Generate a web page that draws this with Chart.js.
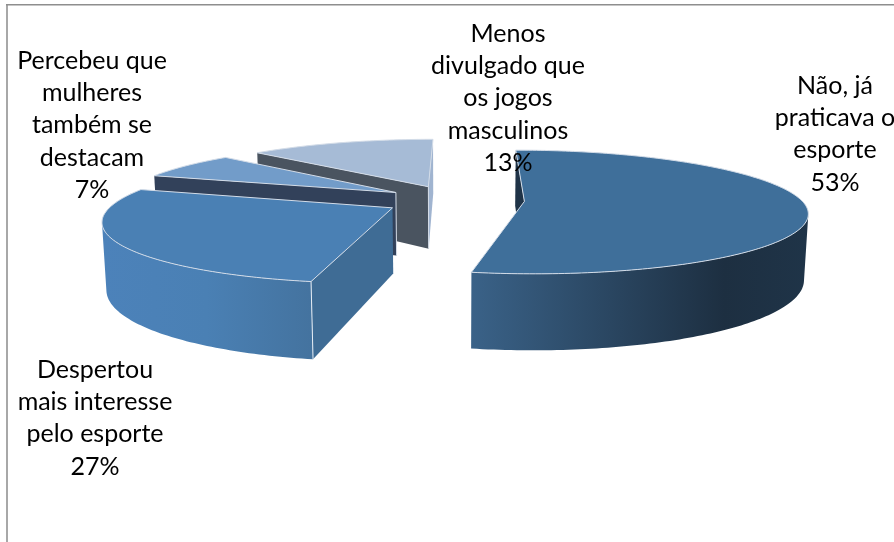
<!DOCTYPE html>
<html>
<head>
<meta charset="utf-8">
<title>Pie</title>
<script src="https://cdn.jsdelivr.net/npm/chart.js@4/dist/chart.umd.min.js"></script>
<style>
  html, body { margin: 0; padding: 0; background: #fff; }
  canvas { display: block; }
</style>
</head>
<body>
<canvas id="pie" width="894" height="542"></canvas>
<script>
const pieEl = document.getElementById('pie');

const labels = [
  ['Não, já', 'praticava o', 'esporte'],
  ['Despertou', 'mais interesse', 'pelo esporte'],
  ['Percebeu que', 'mulheres', 'também se', 'destacam'],
  ['Menos', 'divulgado que', 'os jogos', 'masculinos']
];
const values = [53, 27, 7, 13];

// slice styles
const topColors = ['#3f6f9a', '#4a80b4', '#729cc9', '#a6bbd6'];
const startWallColors = ['#1f3347', '#3f6c95', '#32415a', '#4a5460'];
const endWallColors = ['#1f3347', '#3f6c95', '#32415a', '#a0b4d0'];
const rimStops = [
  [[0, '#3a6288'], [0.75, '#1d2f41'], [1, '#1f3448']],
  [[0, '#4c82ba'], [0.5, '#4a80b4'], [1, '#44739f']],
  [[0, '#32415a'], [1, '#32415a']],
  [[0, '#4a5460'], [1, '#4a5460']]
];
const labelCenters = [[835, 86], [95, 370], [92, 61], [508, 34]];

// view of the tilted disc
const tilt = 0.215;
const persp = 0.17;
const sink = 0.012;
const depth = 65;
const lean = 1.5;
const lineGap = 32.2;

const project = (arc, shift, r, angle, z) => {
  const px = shift.x + r * Math.cos(angle);
  const py = shift.y + r * Math.sin(angle);
  const d = py / arc.outerRadius;
  const w = 1 - persp * d + sink * z;
  const drift = d > -1 ? lean * (d + 1) * (d + 1) : 0;
  return { x: arc.x + px / w - drift, y: arc.y + (tilt * py + depth * z) / w };
};

const polyArea = (pts) => pts.reduce((sum, p, i) => {
  const q = pts[(i + 1) % pts.length];
  return sum + p.x * q.y - q.x * p.y;
}, 0);

const fillPoly = (ctx, pts, fill) => {
  ctx.beginPath();
  pts.forEach((p, i) => (i ? ctx.lineTo(p.x, p.y) : ctx.moveTo(p.x, p.y)));
  ctx.closePath();
  ctx.fillStyle = fill;
  ctx.fill();
};

const edge = (ctx, a, b, color) => {
  ctx.beginPath();
  ctx.moveTo(a.x, a.y);
  ctx.lineTo(b.x, b.y);
  ctx.strokeStyle = color;
  ctx.lineWidth = 1;
  ctx.stroke();
};

const cutWall = (arc, shift, angle) => [
  project(arc, shift, 0, angle, 0),
  project(arc, shift, arc.outerRadius, angle, 0),
  project(arc, shift, arc.outerRadius, angle, 1),
  project(arc, shift, 0, angle, 1)
];

const drawSlice = (ctx, arc, i) => {
  const R = arc.outerRadius;
  const mid = (arc.startAngle + arc.endAngle) / 2;
  const off = arc.options.offset / 4;
  const shift = { x: Math.cos(mid) * off, y: Math.sin(mid) * off };
  const steps = Math.ceil((arc.endAngle - arc.startAngle) * 180 / Math.PI);
  const angles = [];
  for (let s = 0; s <= steps; s++) {
    angles.push(arc.startAngle + (arc.endAngle - arc.startAngle) * s / steps);
  }

  // the two cut faces, only when they turn towards the viewer
  const startWall = cutWall(arc, shift, arc.startAngle);
  const endWall = cutWall(arc, shift, arc.endAngle);
  if (polyArea(startWall) < 0) fillPoly(ctx, startWall, startWallColors[i]);
  if (polyArea(endWall) > 0) fillPoly(ctx, endWall, endWallColors[i]);

  // curved outer face
  const seen = [];
  for (let s = 0; s < steps; s++) {
    const quad = [
      project(arc, shift, R, angles[s], 0),
      project(arc, shift, R, angles[s + 1], 0),
      project(arc, shift, R, angles[s + 1], 1),
      project(arc, shift, R, angles[s], 1)
    ];
    if (polyArea(quad) < 0) seen.push(s, s + 1);
  }
  if (seen.length) {
    const from = Math.min(...seen);
    const to = Math.max(...seen);
    const rimTop = [];
    const rimBottom = [];
    for (let s = from; s <= to; s++) {
      rimTop.push(project(arc, shift, R, angles[s], 0));
      rimBottom.unshift(project(arc, shift, R, angles[s], 1));
    }
    const xs = rimTop.map((p) => p.x);
    const grad = ctx.createLinearGradient(Math.min(...xs), 0, Math.max(...xs), 0);
    rimStops[i].forEach(([at, color]) => grad.addColorStop(at, color));
    fillPoly(ctx, rimTop.concat(rimBottom), grad);
  }

  // corner highlights
  if (polyArea(startWall) < 0) {
    if (i === 1) edge(ctx, startWall[1], startWall[2], '#e6edf5');
    if (i >= 2) edge(ctx, startWall[0], startWall[3], '#d5dde8');
  }

  // top face
  const topFace = [project(arc, shift, 0, arc.startAngle, 0)];
  angles.forEach((a) => topFace.push(project(arc, shift, R, a, 0)));
  fillPoly(ctx, topFace, arc.options.backgroundColor);
  ctx.strokeStyle = '#d3dce8';
  ctx.lineWidth = 1;
  ctx.lineJoin = 'round';
  ctx.stroke();
};

const pie3d = {
  id: 'pie3d',
  beforeDraw(chart) {
    const { ctx } = chart;
    ctx.save();
    ctx.fillStyle = '#fff';
    ctx.fillRect(0, 0, chart.width, chart.height);
    // chart frame, cut off by the page on the right and at the bottom
    ctx.fillStyle = '#a8a8a8';
    ctx.fillRect(6, 4, 2, chart.height - 4);
    ctx.fillStyle = '#8e8e8e';
    ctx.fillRect(6, 4, chart.width - 6, 1.5);
    ctx.restore();
  },
  beforeDatasetDraw(chart, args) {
    const { ctx } = chart;
    const arcs = args.meta.data;
    ctx.save();
    // back slices first
    [3, 2, 1, 0].forEach((i) => drawSlice(ctx, arcs[i], i));
    ctx.restore();
    return false;
  },
  afterDatasetsDraw(chart) {
    const { ctx } = chart;
    ctx.save();
    ctx.fillStyle = '#000';
    ctx.font = '25px Lato, Carlito, sans-serif';
    ctx.textAlign = 'center';
    ctx.textBaseline = 'middle';
    chart.data.labels.forEach((lines, i) => {
      const [cx, cy] = labelCenters[i];
      lines.concat(values[i] + '%').forEach((line, n) => {
        ctx.fillText(line, cx, cy + n * lineGap);
      });
    });
    ctx.restore();
  }
};

new Chart(pieEl, {
  type: 'pie',
  data: {
    labels: labels,
    datasets: [{
      data: values,
      backgroundColor: topColors,
      offset: 280,
      borderWidth: 0
    }]
  },
  options: {
    responsive: false,
    animation: false,
    radius: 277,
    layout: { padding: { left: 18, right: 0, top: 0, bottom: 142 } },
    plugins: {
      legend: { display: false },
      tooltip: { enabled: false }
    }
  },
  plugins: [pie3d]
});
</script>
</body>
</html>
